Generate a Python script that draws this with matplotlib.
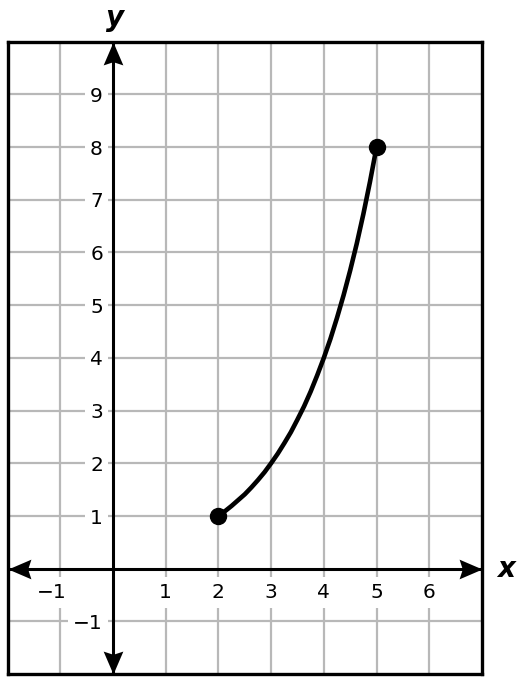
import matplotlib
matplotlib.use("Agg")
import matplotlib.pyplot as plt
from matplotlib.path import Path
from matplotlib.markers import MarkerStyle
from matplotlib.transforms import Affine2D

# Data
curve_x = [2.0, 2.125, 2.25, 2.375, 2.5, 2.625, 2.75, 2.875, 3.0, 3.125, 3.25, 3.375,
           3.5, 3.625, 3.75, 3.875, 4.0, 4.125, 4.25, 4.375, 4.5, 4.625, 4.75, 4.875, 5.0]
curve_y = [1.0, 1.09, 1.19, 1.30, 1.41, 1.54, 1.68, 1.83, 2.0, 2.18, 2.38, 2.59,
           2.83, 3.08, 3.36, 3.67, 4.0, 4.36, 4.76, 5.19, 5.66, 6.17, 6.73, 7.34, 8.0]
end_x = [2, 5]
end_y = [1, 8]
x_ticks = [-1, 1, 2, 3, 4, 5, 6]
y_ticks = [-1, 1, 2, 3, 4, 5, 6, 7, 8, 9]
x_grid = [-1, 1, 2, 3, 4, 5, 6]
y_grid = [-1, 1, 2, 3, 4, 5, 6, 7, 8, 9]
xlim = (-2, 7)
ylim = (-2, 10)

fig = plt.figure(figsize=(5.18, 6.86), dpi=100)
W, H = 518, 686
left, right, top, bottom = 7.5, 482, 41.7, 674
ax = fig.add_axes([left / W, 1 - bottom / H, (right - left) / W, (bottom - top) / H])
ax.set_xlim(*xlim)
ax.set_ylim(*ylim)
ax.set_xticks([])
ax.set_yticks([])
for s in ax.spines.values():
    s.set_linewidth(2.4)
    s.set_color("black")
    s.set_zorder(10)

grid_c = "#b8b8b8"
for gx in x_grid:
    ax.axvline(gx, color=grid_c, lw=1.6, zorder=1)
for gy in y_grid:
    ax.axhline(gy, color=grid_c, lw=1.6, zorder=1)

fs = 14.5
for t in x_ticks:
    lab = f"\u2212{abs(t)}" if t < 0 else str(t)
    xo = t - 0.16 if t < 0 else t
    ax.text(xo, -0.56, lab, ha="center", va="baseline", fontsize=fs, zorder=3,
            bbox=dict(boxstyle="square,pad=0.3", fc="white", ec="none"))
for t in y_ticks:
    lab = f"\u2212{abs(t)}" if t < 0 else str(t)
    ax.text(-0.19, t - 0.145, lab, ha="right", va="baseline", fontsize=fs, zorder=3,
            bbox=dict(boxstyle="square,pad=0.25", fc="white", ec="none"))

# axis lines
ax.plot(list(xlim), [0, 0], color="black", lw=2.2, zorder=5)
ax.plot([0, 0], list(ylim), color="black", lw=2.2, zorder=5)

# arrowheads (tip at marker origin)
head = Path([(0, 0), (-1, 0.43), (-0.86, 0), (-1, -0.43), (0, 0)],
            [Path.MOVETO, Path.LINETO, Path.LINETO, Path.LINETO, Path.CLOSEPOLY])
def head_marker(angle):
    return MarkerStyle(head.transformed(Affine2D().rotate_deg(angle)))
ms_head = 33
for (hx, hy, ang) in [(xlim[1], 0, 0), (xlim[0], 0, 180), (0, ylim[1], 90), (0, ylim[0], 270)]:
    ax.plot([hx], [hy], marker=head_marker(ang), ms=ms_head, color="black",
            mew=0, zorder=6, clip_on=False)

ax.plot(curve_x, curve_y, color="black", lw=3.3, solid_capstyle="round", zorder=7)
ax.plot(end_x, end_y, "o", color="black", ms=11.5, zorder=8)

ax.text(7.45, -0.16, "x", ha="center", va="baseline", fontsize=20, fontweight="bold",
        fontstyle="italic", clip_on=False)
ax.text(0.04, 10.29, "y", ha="center", va="baseline", fontsize=20, fontweight="bold",
        fontstyle="italic", clip_on=False)

fig.savefig("out.png", dpi=100)
